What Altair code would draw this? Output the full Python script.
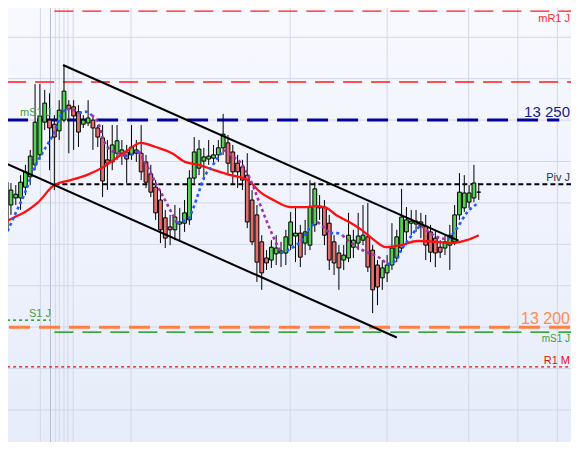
import altair as alt
import pandas as pd

# ---------------- candle data (index 0..98) ----------------
opens = [13223.5, 13229.5, 13231.2, 13231.2, 13233.8, 13236.3, 13239.2, 13241.6, 13249.5, 13250.0,
         13249.0, 13247.4, 13250.0, 13253.6, 13253.2, 13252.0, 13249.0, 13249.3, 13250.0, 13248.1,
         13245.7, 13240.4, 13239.9, 13242.0, 13242.0, 13242.3, 13241.6, 13242.8, 13242.0, 13239.9,
         13237.0, 13233.8, 13230.7, 13226.4, 13224.2, 13223.5, 13224.9, 13225.1, 13225.9, 13236.0,
         13238.4, 13240.1, 13240.6, 13240.8, 13241.6, 13243.3, 13244.5, 13242.3, 13239.6, 13238.7,
         13236.7, 13230.7, 13227.1, 13220.6, 13216.7, 13216.2, 13217.7, 13217.9, 13217.9, 13219.8,
         13222.0, 13222.7, 13220.3, 13219.8, 13224.7, 13229.2, 13229.0, 13225.1, 13220.6, 13217.9,
         13216.2, 13216.7, 13219.3, 13220.3, 13221.0, 13221.8, 13218.6, 13215.0, 13211.9, 13213.1,
         13215.0, 13216.7, 13219.1, 13223.0, 13225.1, 13224.9, 13225.4, 13224.4, 13223.0, 13221.5,
         13219.3, 13219.1, 13219.8, 13220.6, 13227.1, 13228.8, 13230.2, 13231.2, 13232.6]
closes = [13235.0, 13233.1, 13232.1, 13235.0, 13237.5, 13241.3, 13249.5, 13251.0, 13254.1, 13248.1,
          13245.9, 13252.4, 13257.0, 13252.7, 13251.0, 13247.1, 13250.0, 13250.5, 13248.1, 13245.9,
          13235.3, 13239.6, 13244.0, 13245.0, 13242.8, 13240.6, 13243.5, 13242.0, 13237.5, 13235.0,
          13232.6, 13227.6, 13223.5, 13221.5, 13223.5, 13226.6, 13225.4, 13227.6, 13236.0, 13242.3,
          13243.0, 13241.1, 13241.3, 13241.6, 13243.3, 13246.6, 13239.6, 13237.5, 13237.5, 13235.5,
          13225.4, 13220.6, 13215.7, 13213.1, 13215.5, 13219.3, 13219.1, 13218.4, 13221.8, 13225.4,
          13222.7, 13216.9, 13223.0, 13229.0, 13233.4, 13228.8, 13222.2, 13216.2, 13215.5, 13214.3,
          13217.4, 13222.2, 13221.0, 13222.0, 13222.2, 13214.5, 13209.0, 13209.7, 13214.3, 13215.0,
          13219.1, 13221.8, 13226.6, 13225.9, 13225.6, 13225.6, 13224.4, 13219.8, 13218.1, 13217.9,
          13218.1, 13220.6, 13222.2, 13227.1, 13232.6, 13232.4, 13232.4, 13234.8, 13232.6]
highs = [13236.7, 13234.8, 13234.3, 13236.7, 13239.2, 13242.8, 13258.7, 13258.7, 13257.3, 13256.5,
         13251.2, 13254.8, 13263.3, 13254.8, 13254.8, 13253.6, 13251.2, 13254.8, 13251.2, 13248.8,
         13248.8, 13245.2, 13248.8, 13248.8, 13245.2, 13244.0, 13248.8, 13245.2, 13248.8, 13241.6,
         13239.2, 13235.5, 13233.1, 13228.3, 13227.1, 13229.5, 13228.8, 13230.7, 13237.9, 13245.9,
         13245.2, 13243.3, 13245.2, 13244.0, 13245.2, 13251.5, 13246.4, 13244.0, 13241.6, 13240.4,
         13242.0, 13233.1, 13229.5, 13222.2, 13218.6, 13221.0, 13222.2, 13220.6, 13223.5, 13227.8,
         13228.8, 13224.7, 13225.9, 13235.5, 13235.0, 13231.9, 13230.7, 13227.1, 13222.2, 13219.8,
         13219.8, 13227.6, 13223.5, 13227.6, 13229.5, 13230.0, 13219.8, 13216.2, 13216.2, 13217.4,
         13225.1, 13223.5, 13233.4, 13229.0, 13228.3, 13228.3, 13227.6, 13227.1, 13224.7, 13223.5,
         13221.0, 13222.2, 13224.7, 13229.5, 13237.2, 13236.7, 13234.3, 13239.2, 13234.8]
lows = [13222.2, 13227.1, 13229.5, 13228.3, 13231.9, 13234.3, 13237.9, 13240.4, 13247.6, 13237.9,
        13233.1, 13245.2, 13249.5, 13242.0, 13242.8, 13243.5, 13248.1, 13248.6, 13242.8, 13243.5,
        13231.4, 13233.1, 13237.9, 13240.4, 13239.2, 13234.8, 13240.4, 13239.9, 13235.5, 13233.6,
        13231.4, 13225.9, 13220.3, 13219.1, 13219.8, 13221.0, 13221.0, 13223.0, 13224.7, 13234.8,
        13236.7, 13235.5, 13239.2, 13239.2, 13239.9, 13241.6, 13236.7, 13234.3, 13233.6, 13233.1,
        13223.9, 13219.8, 13210.9, 13209.0, 13213.8, 13214.3, 13215.0, 13214.5, 13215.0, 13218.6,
        13215.7, 13214.5, 13217.4, 13218.6, 13223.0, 13225.9, 13219.8, 13213.8, 13212.6, 13209.0,
        13213.8, 13215.7, 13216.7, 13218.6, 13219.8, 13213.3, 13203.4, 13205.3, 13209.0, 13210.9,
        13213.8, 13215.7, 13218.1, 13219.8, 13222.2, 13223.0, 13221.5, 13216.2, 13215.7, 13214.5,
        13216.7, 13217.4, 13213.8, 13219.8, 13225.9, 13227.8, 13228.8, 13230.2, 13230.7]

# ---------------- moving average (red) ----------------
ma_idx = [-0.2, 1.8, 3.9, 6.5, 10.0, 13.4, 16.7, 20.2, 22.8, 25.3, 27.9, 31.0, 34.4, 37.1, 39.9,
          43.2, 46.6, 50.1, 52.7, 55.4, 58.9, 62.3, 64.4, 66.4, 68.4, 71.1, 73.7, 75.8, 78.8, 81.9,
          85.3, 89.4, 92.1, 95.5, 98.0]
ma_val = [13225.4, 13226.6, 13227.8, 13230.0, 13234.3, 13235.5, 13236.7, 13238.7, 13240.8, 13242.8,
          13244.5, 13243.5, 13242.0, 13239.9, 13239.2, 13237.9, 13236.7, 13235.5, 13232.6, 13230.7,
          13229.0, 13229.0, 13229.2, 13228.8, 13227.1, 13225.4, 13223.5, 13221.5, 13219.3, 13219.8,
          13220.8, 13220.6, 13220.3, 13221.0, 13222.2]

# ---------------- dotted trend indicator (segments) ----------------
tr_segments = [
    ("up",   [(-0.2, 13221.8), (2.0, 13227.6), (3.9, 13232.4), (5.9, 13238.7), (7.9, 13242.8), (10.0, 13247.1), (11.6, 13251.7), (12.6, 13252.7)]),
    ("down", [(12.6, 13252.7), (14.1, 13252.4), (15.1, 13251.7)]),
    ("up",   [(15.1, 13251.7), (16.7, 13252.0), (17.7, 13251.2)]),
    ("down", [(17.7, 13251.2), (19.1, 13249.3), (20.2, 13245.2), (21.6, 13242.8), (23.2, 13242.05), (24.6, 13241.3)]),
    ("up",   [(24.6, 13241.3), (25.7, 13241.6), (26.7, 13242.05), (27.5, 13242.5)]),
    ("down", [(27.5, 13242.5), (28.3, 13240.8), (29.7, 13237.9), (31.0, 13234.8), (32.4, 13231.9), (34.0, 13228.3), (35.4, 13225.1)]),
    ("up",   [(35.4, 13225.1), (37.9, 13226.4), (38.9, 13229.0), (39.9, 13232.4), (41.1, 13236.3), (42.6, 13238.7), (44.0, 13241.1), (45.2, 13242.8)]),
    ("down", [(45.2, 13242.8), (47.2, 13241.1), (48.7, 13239.6), (50.7, 13235.5), (52.3, 13230.7), (54.2, 13225.1), (55.4, 13221.8), (57.0, 13217.9)]),
    ("up",   [(57.0, 13217.9), (59.5, 13219.3), (61.3, 13221.0), (62.9, 13223.9), (64.6, 13225.4)]),
    ("down", [(64.6, 13225.4), (66.4, 13223.5), (67.2, 13222.7)]),
    ("up",   [(67.2, 13222.7), (68.6, 13222.7), (69.7, 13222.2)]),
    ("down", [(69.7, 13222.2), (71.1, 13220.8), (73.1, 13219.1), (75.2, 13217.9), (77.2, 13216.9), (79.0, 13215.2)]),
    ("up",   [(79.0, 13215.2), (80.7, 13216.0), (81.9, 13218.6), (83.7, 13221.5), (85.3, 13223.9), (86.2, 13224.4)]),
    ("down", [(86.2, 13224.4), (88.0, 13222.7), (90.0, 13221.5), (91.7, 13221.3)]),
    ("up",   [(91.7, 13221.3), (93.5, 13223.9), (95.5, 13227.6), (98.0, 13230.0)]),
]

# ---------------- channel lines ----------------
channel_id = ["upper", "upper", "lower", "lower"]
channel_idx = [11.8, 93.8, -0.2, 81.0]
channel_val = [13263.3, 13220.9, 13239.6, 13197.5]

# ---------------- horizontal levels ----------------
level_names = ["mR1", "R", "P13250", "Piv", "P13200", "mS1", "S1", "R1M"]
level_prices = [13276.3, 13259.2, 13250.0, 13234.5, 13200.0, 13198.8, 13201.7, 13190.4]
level_start = [10.0, 0.2, 0.2, 10.0, 0.6, 10.0, 0.2, 0.2]
level_end = [117.7, 117.7, 114.7, 117.7, 117.7, 117.7, 9.2, 117.7]

grid_prices = [13180, 13190, 13200, 13210, 13220, 13230, 13240, 13250, 13260, 13270]
grid_idx = [7.1, 10.2, 11.0, 12.0, 12.8, 13.9, 25.9, 58.9, 79.0, 95.9, 106.1, 114.3]
grid_idx_dark = [9.2]

label_texts = ["mR1 J", "13 250", "mS1 J", "Piv J", "13 200", "mS1 J", "S1 J", "R1 M"]
label_prices = [13276.3, 13250.0, 13250.0, 13234.5, 13200.0, 13198.8, 13201.7, 13190.4]

# ---------------- layout / styles ----------------
# the page keeps an 8px margin: the plot fills window pixels 8..571 x 8..442
W, H = 563, 434
xs = alt.Scale(domain=[1.4257, 116.09], nice=False, zero=False)
ys = alt.Scale(domain=[13172.26, 13277.07], nice=False, zero=False)

level_style = {
    "mR1":    dict(color="#ff1a1a", strokeWidth=1.3, strokeDash=[19, 9]),
    "R":      dict(color="#ff1a1a", strokeWidth=1.3, strokeDash=[19, 9]),
    "P13250": dict(color="#00009a", strokeWidth=3, strokeDash=[21, 9]),
    "Piv":    dict(color="#000000", strokeWidth=2, strokeDash=[5, 3]),
    "P13200": dict(color="#ff8040", strokeWidth=3, strokeDash=[21, 9]),
    "mS1":    dict(color="#008a00", strokeWidth=1.3, strokeDash=[19, 9]),
    "S1":     dict(color="#008a00", strokeWidth=1.2, strokeDash=[3, 3]),
    "R1M":    dict(color="#e01010", strokeWidth=1.2, strokeDash=[3, 3]),
}
label_style = [
    dict(x=562, align="right", dy=11, size=11, color="#ff2a2a"),
    dict(x=562, align="right", dy=-3, size=15, color="#1a1a8a"),
    dict(x=12, align="left", dy=-4, size=11, color="#3f9f3f"),
    dict(x=562, align="right", dy=-3, size=11, color="#333340"),
    dict(x=562, align="right", dy=-3, size=16, color="#ff8c50"),
    dict(x=562, align="right", dy=10, size=10, color="#3f9f3f"),
    dict(x=21, align="left", dy=-3, size=11, color="#3f9f3f"),
    dict(x=562, align="right", dy=-3, size=11, color="#e01010"),
]

layers = []

# background gradient
layers.append(
    alt.Chart(pd.DataFrame({"a": [0]})).mark_rect(
        color=alt.Gradient(gradient="linear",
                           stops=[alt.GradientStop(color="#f8f9ff", offset=0),
                                  alt.GradientStop(color="#e6ecfa", offset=1)],
                           x1=0, x2=0, y1=0, y2=1)
    ).encode(x=alt.value(0), x2=alt.value(W), y=alt.value(0), y2=alt.value(H))
)

# grids
layers.append(alt.Chart(pd.DataFrame({"p": grid_prices})).mark_rule(color="#d3d7e7", strokeWidth=1)
              .encode(y=alt.Y("p:Q", scale=ys, axis=None)))
layers.append(alt.Chart(pd.DataFrame({"g": grid_idx})).mark_rule(color="#d3d7e7", strokeWidth=1)
              .encode(x=alt.X("g:Q", scale=xs, axis=None)))
layers.append(alt.Chart(pd.DataFrame({"g": grid_idx_dark})).mark_rule(color="#b9bdd0", strokeWidth=1)
              .encode(x=alt.X("g:Q", scale=xs, axis=None)))

# levels
for name, p, s, e in zip(level_names, level_prices, level_start, level_end):
    df = pd.DataFrame({"p": [p], "s": [s], "e": [e]})
    layers.append(alt.Chart(df).mark_rule(strokeCap="butt", clip=True, **level_style[name]).encode(
        x=alt.X("s:Q", scale=xs, axis=None), x2="e:Q", y=alt.Y("p:Q", scale=ys, axis=None)))

# candles
cdf = pd.DataFrame({"i": list(range(len(opens))), "open": opens, "close": closes,
                    "high": highs, "low": lows})
cdf["dir"] = ["up" if c >= o else "down" for o, c in zip(opens, closes)]
base = alt.Chart(cdf)
layers.append(base.mark_rule(color="black", strokeWidth=1, clip=True).encode(
    x=alt.X("i:Q", scale=xs, axis=None), y=alt.Y("low:Q", scale=ys, axis=None), y2="high:Q"))
layers.append(base.mark_bar(size=3.8, stroke="black", strokeWidth=1, orient="vertical", clip=True).encode(
    x=alt.X("i:Q", scale=xs, axis=None), y=alt.Y("open:Q", scale=ys, axis=None), y2="close:Q",
    color=alt.Color("dir:N", scale=alt.Scale(domain=["up", "down"], range=["#55d055", "#e46e6e"]), legend=None)))

# red moving average
layers.append(alt.Chart(pd.DataFrame({"x": ma_idx, "v": ma_val})).mark_line(
    color="#ff1010", strokeWidth=2.3, interpolate="monotone", clip=True).encode(
    x=alt.X("x:Q", scale=xs, axis=None), y=alt.Y("v:Q", scale=ys, axis=None)))

# dotted indicator
rows = []
for k, (d, pts) in enumerate(tr_segments):
    for j, (xx, vv) in enumerate(pts):
        rows.append({"seg": k, "trend": "rising" if d == "up" else "falling", "x": xx, "v": vv, "o": j})
layers.append(alt.Chart(pd.DataFrame(rows)).mark_line(
    strokeWidth=2.6, strokeDash=[3, 3], strokeCap="butt", interpolate="monotone", clip=True).encode(
    x=alt.X("x:Q", scale=xs, axis=None), y=alt.Y("v:Q", scale=ys, axis=None),
    detail="seg:N", order="o:Q",
    stroke=alt.Stroke("trend:N", scale=alt.Scale(domain=["rising", "falling"], range=["#1f5cff", "#a030b0"]), legend=None)))

# channel lines
layers.append(alt.Chart(pd.DataFrame({"id": channel_id, "x": channel_idx, "v": channel_val})).mark_line(
    color="black", strokeWidth=2, clip=True).encode(
    x=alt.X("x:Q", scale=xs, axis=None), y=alt.Y("v:Q", scale=ys, axis=None), detail="id:N"))

# labels
for t, p, st in zip(label_texts, label_prices, label_style):
    df = pd.DataFrame({"t": [t], "p": [p]})
    layers.append(alt.Chart(df).mark_text(
        align=st["align"], baseline="alphabetic", dy=st["dy"], fontSize=st["size"],
        color=st["color"], font="Liberation Sans").encode(
        x=alt.value(st["x"]), y=alt.Y("p:Q", scale=ys, axis=None), text="t:N"))

chart = alt.layer(*layers).resolve_scale(color="independent", stroke="independent").properties(
    width=W, height=H,
    padding=0,
    autosize=alt.AutoSizeParams(type="none"),
    background="white",
).configure_view(strokeWidth=0)

chart.save("out.html", embed_options={"renderer": "svg", "actions": False})
